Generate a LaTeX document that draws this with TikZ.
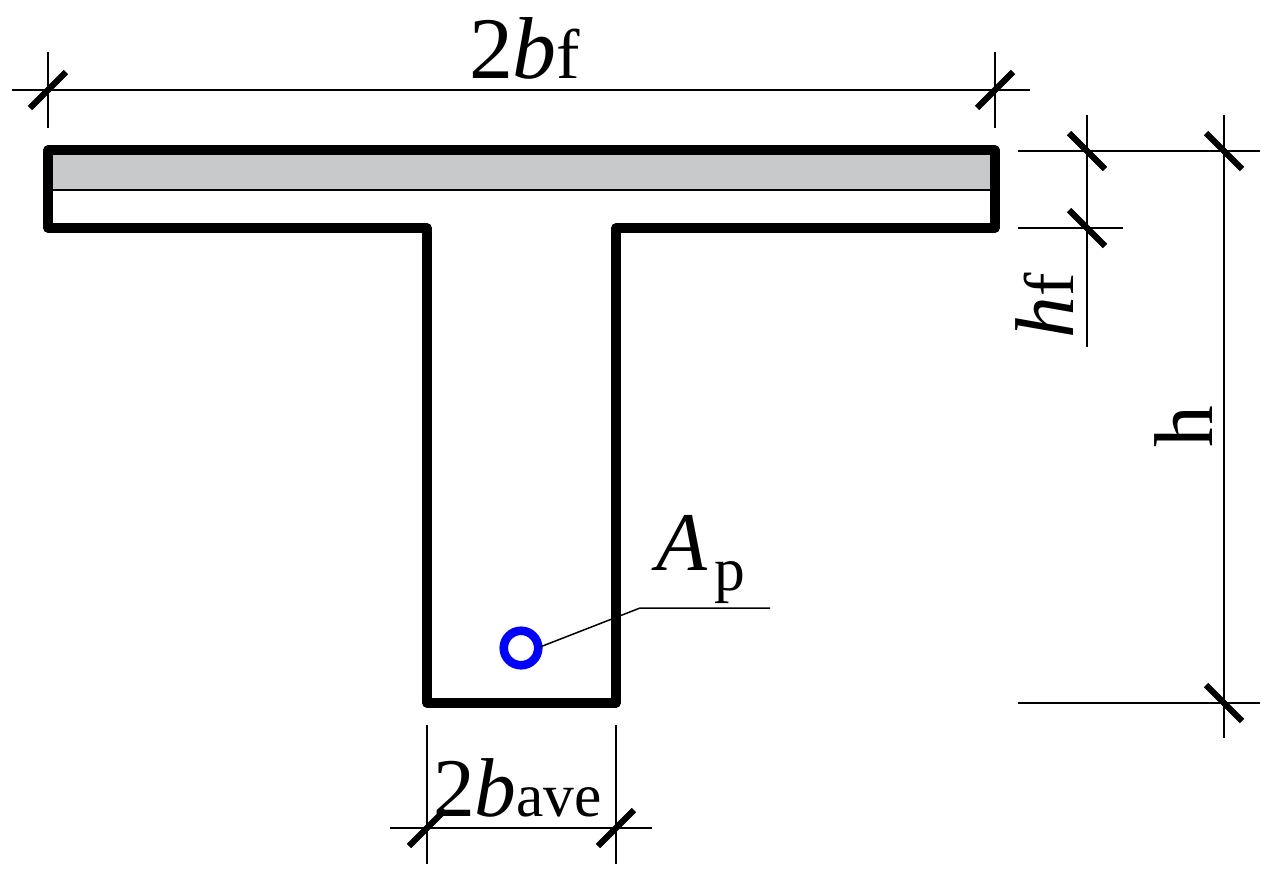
\documentclass[tikz,border=0pt]{standalone}
\usepackage{fontspec}
\setmainfont{Liberation Serif}
\newcommand{\bigsize}{\fontsize{47.5}{50}\selectfont}
\newcommand{\subsize}{\fontsize{35}{38}\selectfont}
\newcommand{\topsize}{\fontsize{50}{52}\selectfont}
\newcommand{\topsub}{\fontsize{40}{42}\selectfont}
\definecolor{slabgray}{RGB}{200,201,203}
\tikzset{
 dimline/.style={black, line width=0.85pt},
 dimtick/.style={black, line width=3.5pt},
 dimlabel/.style={inner sep=0pt, outer sep=0pt, anchor=base west},
}
\begin{document}
\begin{tikzpicture} [x=0.02cm, y=-0.02cm]
\useasboundingbox (0,0) rectangle (1273,876);
% slab
\fill[slabgray] (48,150) rectangle (995,190);
\draw[black, line width=0.9pt] (48,190)--(995,190);
% section outline
\draw[black, line width=5.2pt, line join=round] (48,150)--(995,150)--(995,228)--(616,228)--(616,703)--(427,703)--(427,228)--(48,228)--cycle;
% dimension lines
\draw[dimline] (12,90)--(1030,90);
\draw[dimline] (390,828)--(652,828);
\draw[dimline] (1018,151)--(1260,151);
\draw[dimline] (1018,228)--(1123,228);
\draw[dimline] (1018,703)--(1260,703);
\draw[dimline] (1087,115)--(1087,347);
\draw[dimline] (1224,115)--(1224,738);
\foreach \x in {48,995} {
 \draw[dimline] (\x,52) --++(0,76);
 \draw[dimtick] (\x-18,108) --++(36,-36);
}
\foreach \x in {427,616} {
 \draw[dimline] (\x,725) --++(0,139);
 \draw[dimtick] (\x-18,846) --++(36,-36);
}
\foreach \x/\y in {1087/151,1087/228,1224/151,1224/703} {
 \draw[dimtick] (\x-18,\y-18) --++(36,36);
}
% strand
\node[circle, draw=blue, line width=4.9pt, minimum size=0.69cm, inner sep=0pt] (strand) at (521,648) {};
\coordinate (knee) at (640,608);
\coordinate (leaderend) at (770,608);
\draw[dimline] (strand.center) ++(19,-1) --(knee)--(leaderend);
% labels
\node[dimlabel] (labelbf) at (469,78) {\topsize 2\textit{b}\topsub f};
\node[dimlabel] (labelbave) at (433,816) {\bigsize 2\textit{b}\subsize ave};
\node[dimlabel] (labelap) at (656,570) {\bigsize\textit{A}};
\node[dimlabel] (labelp) at (714,590) {\subsize p};
\node[dimlabel, rotate=90] (labelhf) at (1073,338) {\bigsize\textit{h}\topsub f};
\node[dimlabel, rotate=90] (labelh) at (1212,447) {\bigsize h};
\end{tikzpicture}
\end{document}
